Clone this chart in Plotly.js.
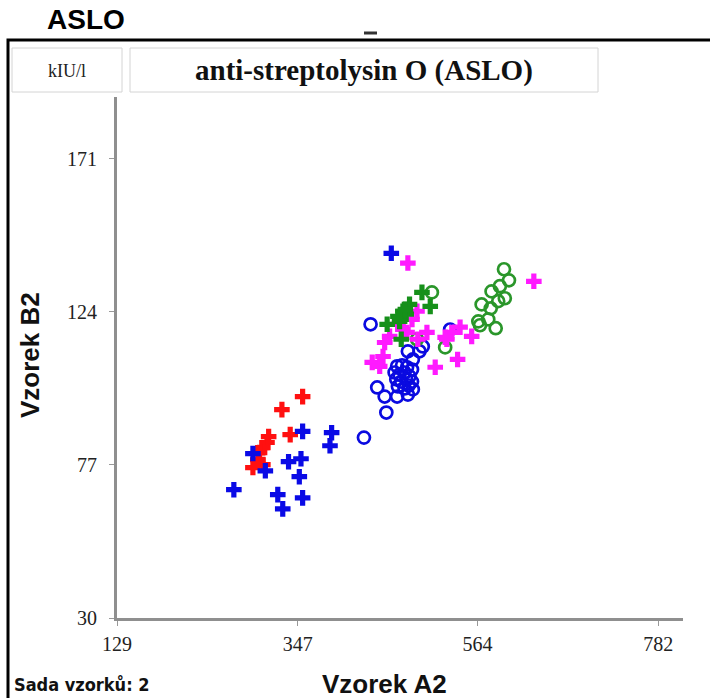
<!DOCTYPE html>
<html>
<head>
<meta charset="utf-8">
<script src="https://cdn.plot.ly/plotly-3.0.1.min.js"></script>
<style>html,body{margin:0;padding:0;background:#fff;}#chart{width:710px;height:698px;}</style>
</head>
<body>
<div id="chart"></div>
<script>
// ---- data ----
var xTicks = [129, 347, 564, 782];
var yTicks = [30, 77, 124, 171];

var redCrossX = [353, 328, 338, 312, 310, 305, 301, 299, 305, 293];
var redCrossY = [98.0, 94.0, 86.3, 85.7, 83.9, 82.3, 80.8, 78.6, 77.1, 76.2];

var blueCrossX = [460, 353, 388, 386, 293, 336, 351, 308, 349, 270, 323, 353, 329];
var blueCrossY = [142.0, 87.3, 86.9, 82.9, 80.5, 78.0, 78.9, 75.2, 73.4, 69.4, 67.9, 66.9, 63.5];

var blueCircleX = [435, 531, 498, 480, 494, 486, 467, 473, 479, 485, 464, 470, 476, 482, 466, 472, 478, 485, 468, 476, 481, 486, 443, 452, 467, 480, 454, 427];
var blueCircleY = [120.2, 118.6, 113.4, 111.9, 111.9, 109.4, 107.3, 107.6, 107.0, 106.3, 105.4, 104.8, 105.4, 104.2, 103.3, 102.6, 103.3, 102.6, 101.1, 100.5, 101.4, 100.2, 100.8, 98.0, 98.0, 98.6, 93.1, 85.4];

var greenCircleX = [509, 491, 525, 596, 602, 591, 581, 597, 589, 569, 580, 565, 577, 567, 586];
var greenCircleY = [130.0, 115.6, 113.1, 137.1, 133.7, 131.9, 130.3, 128.2, 127.3, 126.3, 125.1, 121.1, 121.7, 119.9, 119.0];

var greenCrossX = [497, 507, 482, 474, 468, 478, 455, 472, 477, 470];
var greenCrossY = [130.0, 125.7, 126.3, 124.2, 122.6, 123.3, 120.2, 115.6, 124.8, 121.1];

var magentaCrossX = [480, 491, 485, 503, 458, 479, 527, 543, 557, 533, 525, 540, 513, 452, 450, 437, 446, 492, 474, 632, 468];
var magentaCrossY = [139.0, 124.2, 121.7, 117.7, 116.5, 117.7, 115.6, 119.3, 116.5, 117.7, 116.2, 109.4, 107.0, 114.6, 110.3, 108.5, 107.3, 115.6, 118.6, 133.4, 120.2];

// ---- layout geometry ----
var W = 710, H = 698;
var L = 117, R = 683, T = 97, B = 618;
function px(x) { return (x - L) / (R - L); }
function py(y) { return (B - y) / (B - T); }

function crossTrace(x, y, color) {
  return {x: x, y: y, type: 'scatter', mode: 'markers', hoverinfo: 'skip',
    marker: {symbol: 'cross', size: 13, color: color, line: {width: 0}}};
}
function circleTrace(x, y, color) {
  return {x: x, y: y, type: 'scatter', mode: 'markers', hoverinfo: 'skip',
    marker: {symbol: 'circle-open', size: 12, color: color, line: {width: 2.7, color: color}}};
}

var traces = [
  crossTrace(redCrossX, redCrossY, '#ff1010'),
  crossTrace(blueCrossX, blueCrossY, '#0a0ae6'),
  circleTrace(blueCircleX, blueCircleY, '#0a0ae0'),
  circleTrace(greenCircleX, greenCircleY, '#2a962a'),
  crossTrace(magentaCrossX, magentaCrossY, '#ff1aff'),
  crossTrace(greenCrossX, greenCrossY, '#16901a')
];

var axisCommon = {
  showgrid: false, zeroline: false, showline: true, linecolor: '#8f8f8f', linewidth: 3,
  ticks: 'outside', ticklen: 5, tickwidth: 1, tickcolor: '#999',
  tickfont: {family: 'Liberation Serif, Times New Roman, serif', size: 20, color: '#222'},
  fixedrange: true
};

var layout = {
  width: W, height: H,
  margin: {l: L, r: W - R, t: T, b: H - B, pad: 0},
  paper_bgcolor: '#fff', plot_bgcolor: '#fff',
  showlegend: false,
  xaxis: Object.assign({}, axisCommon, {range: [129, 812], tickvals: xTicks, ticktext: xTicks.map(String), ticklabelstandoff: 1}),
  yaxis: Object.assign({}, axisCommon, {range: [30, 190], tickvals: yTicks, ticktext: yTicks.map(String), ticklabelstandoff: 8}),
  shapes: [
    {type: 'rect', xref: 'paper', yref: 'paper', x0: px(8), x1: px(760), y0: py(760), y1: py(40),
      line: {color: '#000', width: 3}, fillcolor: 'rgba(0,0,0,0)', layer: 'below'},
    {type: 'rect', xref: 'paper', yref: 'paper', x0: px(12), x1: px(122), y0: py(92), y1: py(48),
      line: {color: '#d4d4d4', width: 1}, fillcolor: '#fff'},
    {type: 'rect', xref: 'paper', yref: 'paper', x0: px(130), x1: px(598), y0: py(92), y1: py(48),
      line: {color: '#d4d4d4', width: 1}, fillcolor: '#fff'},
    {type: 'line', xref: 'paper', yref: 'paper', x0: px(364), x1: px(377), y0: py(33), y1: py(33),
      line: {color: '#333', width: 3}}
  ],
  annotations: [
    {text: '<b>ASLO</b>', xref: 'paper', yref: 'paper', x: px(86), y: py(19), xanchor: 'center', yanchor: 'middle',
      showarrow: false, font: {family: 'Liberation Sans, Arial, sans-serif', size: 28, color: '#000'}},
    {text: 'kIU/l', xref: 'paper', yref: 'paper', x: px(67), y: py(71), xanchor: 'center', yanchor: 'middle',
      showarrow: false, font: {family: 'Liberation Serif, Times New Roman, serif', size: 18, color: '#222'}},
    {text: '<b>anti-streptolysin O (ASLO)</b>', xref: 'paper', yref: 'paper', x: px(364), y: py(71), xanchor: 'center', yanchor: 'middle',
      showarrow: false, font: {family: 'Liberation Serif, Times New Roman, serif', size: 29, color: '#111'}},
    {text: '<b>Vzorek A2</b>', xref: 'paper', yref: 'paper', x: px(384), y: py(684), xanchor: 'center', yanchor: 'middle',
      showarrow: false, font: {family: 'Liberation Sans, Arial, sans-serif', size: 26, color: '#111'}},
    {text: '<b>Vzorek B2</b>', xref: 'paper', yref: 'paper', x: px(30), y: py(355), xanchor: 'center', yanchor: 'middle',
      textangle: -90, showarrow: false, font: {family: 'Liberation Sans, Arial, sans-serif', size: 26, color: '#111'}},
    {text: '<b>Sada vzorků: 2</b>', xref: 'paper', yref: 'paper', x: px(12), y: py(684), xanchor: 'left', yanchor: 'middle',
      showarrow: false, font: {family: 'DejaVu Sans Condensed, Liberation Sans Narrow, Liberation Sans, sans-serif', size: 18, color: '#111'}}
  ]
};

Plotly.newPlot('chart', traces, layout, {displayModeBar: false, staticPlot: true});
</script>
</body>
</html>
